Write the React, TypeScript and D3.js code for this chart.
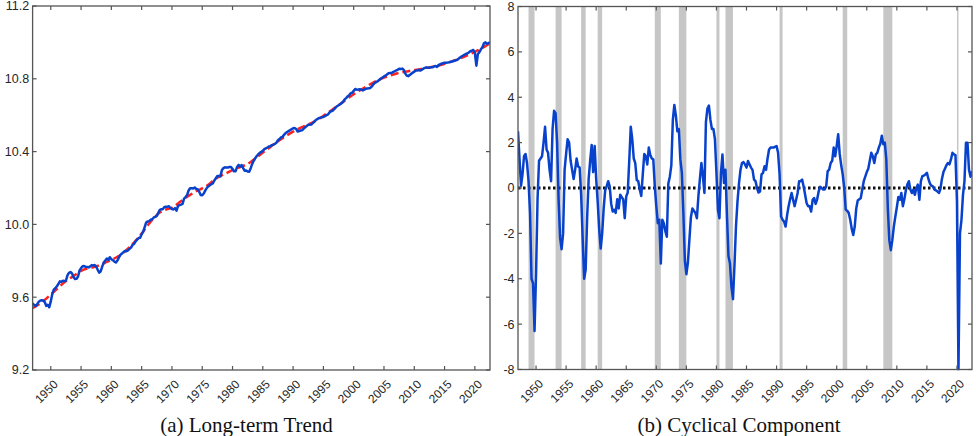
import React from "react";
import * as d3 from "d3";

// ---------- DATA ----------
// Quarterly cyclical component (percent), 1947Q1 .. 2022Q3
const cycle: number[] = [
  2.5, 1.3, 0.1, 0.6, 1.4, 1.5, 1.1, 0.3, -1.1, -4.0,
  -4.2, -6.3, -3.8, -0.5, 1.2, 1.3, 1.4, 2.0, 2.7, 1.7,
  1.55, 0.8, 0.3, 2.6, 3.4, 3.3, 2.0, -0.5, -2.2, -2.7,
  -2.0, 0.8, 1.5, 2.15, 2.0, 1.2, 0.8, 0.4, 0.8, 1.3,
  0.95, 0.9, -0.3, -2.2, -4.0, -3.6, -1.3, 0.4, 1.2, 1.9,
  0.7, 1.85, 0.4, -0.6, -1.8, -2.67, -2.0, -0.9, -0.1, 0.07,
  0.3, 0.07, -0.7, -1.04, -0.96, -1.1, -0.5, -0.9, -0.3, -0.4,
  -0.5, -1.33, -0.37, -0.2, 1.2, 2.7, 2.15, 1.3, 1.1, 0.35,
  0.3, -0.07, -0.35, 0.6, 1.5, 1.4, 1.04, 1.78, 1.45, 1.3,
  1.26, 0.07, -0.8, -1.55, -1.4, -3.33, -1.4, -1.55, -1.9, -2.15,
  0.2, 0.5, 1.0, 3.0, 3.66, 3.2, 2.5, 2.6, 1.26, 0.67,
  -1.1, -3.2, -3.8, -3.3, -2.3, -1.3, -0.9, -1.0, -1.1, -1.33,
  -0.37, 0.4, 1.1, 0.52, -0.22, 2.9, 3.5, 3.63, 3.0, 2.6,
  2.6, 2.15, 0.67, -0.96, -1.33, 0.67, 1.48, 0.22, 0.8, -1.2,
  -3.0, -3.33, -4.37, -4.9, -3.4, -1.7, -0.6, 0.2, 0.8, 1.1,
  1.14, 1.04, 0.9, 1.19, 1.04, 0.9, 0.8, 0.37, 0.3, 0.0,
  -0.2, -0.15, 0.6, 0.67, 0.96, 0.8, 1.3, 1.7, 1.78, 1.78,
  1.78, 1.82, 1.85, 1.55, 0.6, -1.26, -1.4, -1.48, -1.7, -1.2,
  -0.8, -0.5, -0.22, -0.52, -0.8, -0.52, -0.22, 0.3, 0.3, 0.37,
  0.07, -0.3, -0.67, -0.8, -0.8, -1.04, -0.52, -0.44, -0.7, -0.5,
  -0.15, 0.05, 0.0, -0.07, -0.07, 0.07, 0.74, 0.81, 1.1, 1.2,
  1.78, 1.4, 1.85, 2.37, 1.5, 1.0, 0.6, 0.0, -0.96, -1.0,
  -1.1, -1.4, -1.8, -2.07, -1.7, -0.9, -0.55, -0.5, -0.44, -0.07,
  0.3, 0.5, 0.7, 0.85, 1.2, 1.55, 1.4, 1.1, 1.48, 1.55,
  1.78, 1.95, 2.3, 1.93, 2.0, 1.26, -0.9, -2.3, -2.74, -2.3,
  -1.7, -1.26, -0.85, -0.4, -0.52, -0.22, -0.8, -0.5, -0.1, 0.15,
  0.3, -0.07, -0.22, -0.07, -0.3, 0.0, 0.15, -0.52, 0.3, 0.52,
  0.55, 0.6, 0.67, 0.4, 0.2, 0.1, 0.07, -0.07, -0.1, -0.15,
  -0.22, -0.05, 0.4, 0.7, 0.85, 1.0, 1.1, 1.04, 1.26, 1.55,
  1.48, 1.45, -0.6, -8.0, -2.0, -1.4, -0.3, 0.3, 2.0, 2.0,
  0.8, 0.5, 0.74,
];
const firstYear = 1947;

// Long-term trend (log level), read at yearly points
const trendYears: number[] = [
  1947, 1948, 1949, 1950, 1951, 1952, 1953, 1954, 1955, 1956,
  1957, 1958, 1959, 1960, 1961, 1962, 1963, 1964, 1965, 1966,
  1967, 1968, 1969, 1970, 1971, 1972, 1973, 1974, 1975, 1976,
  1977, 1978, 1979, 1980, 1981, 1982, 1983, 1984, 1985, 1986,
  1987, 1988, 1989, 1990, 1991, 1992, 1993, 1994, 1995, 1996,
  1997, 1998, 1999, 2000, 2001, 2002, 2003, 2004, 2005, 2006,
  2007, 2008, 2009, 2010, 2011, 2012, 2013, 2014, 2015, 2016,
  2017, 2018, 2019, 2020, 2021, 2022, 2022.5,
];
const trendLevels: number[] = [
  9.54, 9.56, 9.585, 9.615, 9.645, 9.675, 9.7, 9.722, 9.745, 9.758,
  9.765, 9.775, 9.79, 9.805, 9.822, 9.845, 9.875, 9.91, 9.95, 9.995,
  10.035, 10.065, 10.082, 10.092, 10.115, 10.14, 10.162, 10.182, 10.198, 10.218,
  10.245, 10.266, 10.282, 10.298, 10.312, 10.325, 10.343, 10.368, 10.395, 10.42,
  10.445, 10.468, 10.49, 10.51, 10.527, 10.542, 10.557, 10.575, 10.597, 10.62,
  10.643, 10.667, 10.692, 10.715, 10.736, 10.756, 10.775, 10.792, 10.806, 10.818,
  10.828, 10.836, 10.842, 10.848, 10.853, 10.86, 10.866, 10.872, 10.882, 10.893,
  10.905, 10.918, 10.932, 10.948, 10.965, 10.985, 10.995,
];

const recessionPeaks: number[] = [1948.75, 1953.25, 1957.5, 1960.25, 1969.75, 1973.75, 1980.0, 1981.5, 1990.5, 2001.0, 2007.75, 2020.0];
const recessionTroughs: number[] = [1949.75, 1954.25, 1958.25, 1961.0, 1970.75, 1975.0, 1980.5, 1982.75, 1991.0, 2001.75, 2009.25, 2020.25];

const xTickYears: number[] = [1950, 1955, 1960, 1965, 1970, 1975, 1980, 1985, 1990, 1995, 2000, 2005, 2010, 2015, 2020];
const leftYTicks: number[] = [9.2, 9.6, 10.0, 10.4, 10.8, 11.2];
const leftYLabels: string[] = ["9.2", "9.6", "10.0", "10.4", "10.8", "11.2"];
const rightYTicks: number[] = [-8, -6, -4, -2, 0, 2, 4, 6, 8];

const captionA = "(a) Long-term Trend";
const captionB = "(b) Cyclical Component";

// ---------- STYLE ----------
const W = 976;
const H = 436;
const axisColor = "#555555";
const labelColor = "#262626";
const blue = "#0842cc";
const red = "#ff2020";
const shade = "#c6c6c6";
const sansFont = "'Liberation Sans', Arial, Helvetica, sans-serif";
const serifFont = "'Liberation Serif', 'Times New Roman', serif";

const xDomain: [number, number] = [1947, 2022.5];

type Frame = { x0: number; x1: number; y0: number; y1: number };

function AxesBox({ frame, x, y, yTicks, yLabels }: {
  frame: Frame; x: d3.ScaleLinear<number, number>; y: d3.ScaleLinear<number, number>;
  yTicks: number[]; yLabels: string[];
}) {
  const tl = 4;
  return (
    <g>
      <rect x={frame.x0} y={frame.y0} width={frame.x1 - frame.x0} height={frame.y1 - frame.y0}
        fill="none" stroke={axisColor} strokeWidth={1.3} />
      {xTickYears.map((t) => (
        <g key={"xt" + t}>
          <line x1={x(t)} x2={x(t)} y1={frame.y1} y2={frame.y1 - tl} stroke={axisColor} strokeWidth={1.2} />
          <line x1={x(t)} x2={x(t)} y1={frame.y0} y2={frame.y0 + tl} stroke={axisColor} strokeWidth={1.2} />
          <text
            transform={`translate(${x(t) + 8},${frame.y1 + 15}) rotate(-45)`}
            textAnchor="end" fontFamily={sansFont} fontSize={12} fill={labelColor}>
            {String(t)}
          </text>
        </g>
      ))}
      {yTicks.map((t, i) => (
        <g key={"yt" + t}>
          <line x1={frame.x0} x2={frame.x0 + tl} y1={y(t)} y2={y(t)} stroke={axisColor} strokeWidth={1.2} />
          <line x1={frame.x1} x2={frame.x1 - tl} y1={y(t)} y2={y(t)} stroke={axisColor} strokeWidth={1.2} />
          <text x={frame.x0 - 3.5} y={y(t)} dy="0.35em" textAnchor="end"
            fontFamily={sansFont} fontSize={12.5} fill={labelColor}>
            {yLabels[i]}
          </text>
        </g>
      ))}
    </g>
  );
}

export default function App() {
  // ----- left panel -----
  const fa: Frame = { x0: 32.6, x1: 490, y0: 6, y1: 370 };
  const xa = d3.scaleLinear().domain(xDomain).range([fa.x0, fa.x1]);
  const ya = d3.scaleLinear().domain([9.2, 11.2]).range([fa.y1, fa.y0]);
  const trendAt = d3.scaleLinear().domain(trendYears).range(trendLevels);

  const levelSeries = cycle.map((c, i) => {
    const t = firstYear + i / 4;
    return { t, v: trendAt(t) + c / 100 };
  });
  const trendSeries = trendYears.map((t, i) => ({ t, v: trendLevels[i] }));

  const lineA = d3.line<{ t: number; v: number }>().x((d) => xa(d.t)).y((d) => ya(d.v));
  const lineTrend = d3.line<{ t: number; v: number }>()
    .x((d) => xa(d.t)).y((d) => ya(d.v)).curve(d3.curveMonotoneX);

  // ----- right panel -----
  const fb: Frame = { x0: 518, x1: 972, y0: 6.5, y1: 369.5 };
  const xb = d3.scaleLinear().domain(xDomain).range([fb.x0, fb.x1]);
  const yb = d3.scaleLinear().domain([-8, 8]).range([fb.y1, fb.y0]);
  const cycleSeries = cycle.map((c, i) => ({ t: firstYear + i / 4, v: c }));
  const lineB = d3.line<{ t: number; v: number }>().x((d) => xb(d.t)).y((d) => yb(d.v));

  return (
    <svg width={W} height={H} viewBox={`0 0 ${W} ${H}`}
      style={{ position: "absolute", left: 0, top: 0, background: "#fff" }}>
      <rect x={0} y={0} width={W} height={H} fill="#fff" />
      <defs>
        <clipPath id="clipA"><rect x={fa.x0} y={fa.y0} width={fa.x1 - fa.x0} height={fa.y1 - fa.y0} /></clipPath>
        <clipPath id="clipB"><rect x={fb.x0} y={fb.y0 - 1} width={fb.x1 - fb.x0} height={fb.y1 - fb.y0 + 2} /></clipPath>
      </defs>

      {/* Left panel */}
      <g clipPath="url(#clipA)">
        <path d={lineTrend(trendSeries) || ""} fill="none" stroke={red} strokeWidth={2.5} strokeDasharray="8 4" />
        <path d={lineA(levelSeries) || ""} fill="none" stroke={blue} strokeWidth={2.5} strokeLinejoin="round" />
      </g>
      <AxesBox frame={fa} x={xa} y={ya} yTicks={leftYTicks} yLabels={leftYLabels} />

      {/* Right panel */}
      <g clipPath="url(#clipB)">
        {recessionPeaks.map((p, i) => (
          <rect key={"r" + i} x={xb(p)} y={fb.y0} width={Math.max(1.2, xb(recessionTroughs[i]) - xb(p))}
            height={fb.y1 - fb.y0} fill={shade} />
        ))}
        <line x1={fb.x0} x2={fb.x1} y1={yb(0)} y2={yb(0)} stroke="#111" strokeWidth={3} strokeDasharray="2.5 2.5" />
        <path d={lineB(cycleSeries) || ""} fill="none" stroke={blue} strokeWidth={2.5} strokeLinejoin="round" />
      </g>
      <AxesBox frame={fb} x={xb} y={yb} yTicks={rightYTicks} yLabels={rightYTicks.map(String)} />

      {/* Captions */}
      <text x={246.5} y={432} textAnchor="middle" fontFamily={serifFont} fontSize={21} fill="#111">{captionA}</text>
      <text x={739} y={432} textAnchor="middle" fontFamily={serifFont} fontSize={21} fill="#111">{captionB}</text>
    </svg>
  );
}
